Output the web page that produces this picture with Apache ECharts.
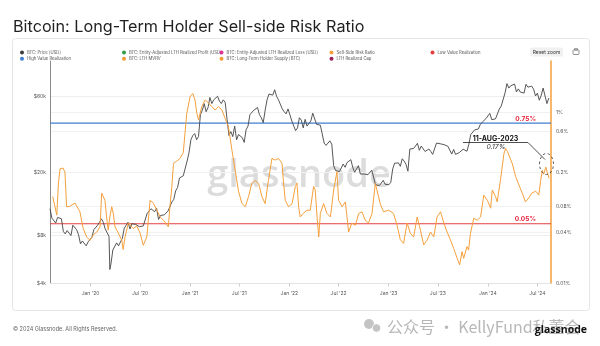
<!DOCTYPE html>
<html>
<head>
<meta charset="utf-8">
<script src="https://cdn.jsdelivr.net/npm/echarts@6/dist/echarts.min.js"></script>
<style>
html,body{margin:0;padding:0;background:#fff}
#c{width:600px;height:346px}
</style>
</head>
<body>
<div id="c"></div>
<script>
// Weekly BTC closing price (USD)
const priceDates = [
'2019-08-05','2019-08-12','2019-08-19','2019-08-26','2019-09-02','2019-09-09','2019-09-16','2019-09-23','2019-09-30','2019-10-07','2019-10-14','2019-10-21','2019-10-28','2019-11-04','2019-11-11','2019-11-18','2019-11-25','2019-12-02','2019-12-09','2019-12-16','2019-12-23','2019-12-30',
'2020-01-06','2020-01-13','2020-01-20','2020-01-27','2020-02-03','2020-02-10','2020-02-17','2020-02-24','2020-03-02','2020-03-09','2020-03-12','2020-03-16','2020-03-23','2020-03-30','2020-04-06','2020-04-13','2020-04-20','2020-04-27','2020-05-04','2020-05-11','2020-05-18','2020-05-25','2020-06-01','2020-06-08','2020-06-15','2020-06-22','2020-06-29','2020-07-06','2020-07-13','2020-07-20','2020-07-27','2020-08-03','2020-08-10','2020-08-17','2020-08-24','2020-08-31','2020-09-07','2020-09-14','2020-09-21','2020-09-28','2020-10-05','2020-10-12','2020-10-19','2020-10-26','2020-11-02','2020-11-09','2020-11-16','2020-11-23','2020-11-30','2020-12-07','2020-12-14','2020-12-21','2020-12-28',
'2021-01-04','2021-01-11','2021-01-18','2021-01-25','2021-02-01','2021-02-08','2021-02-15','2021-02-22','2021-03-01','2021-03-08','2021-03-15','2021-03-22','2021-03-29','2021-04-05','2021-04-12','2021-04-19','2021-04-26','2021-05-03','2021-05-10','2021-05-17','2021-05-24','2021-05-31','2021-06-07','2021-06-14','2021-06-21','2021-06-28','2021-07-05','2021-07-12','2021-07-19','2021-07-26','2021-08-02','2021-08-09','2021-08-16','2021-08-23','2021-08-30','2021-09-06','2021-09-13','2021-09-20','2021-09-27','2021-10-04','2021-10-11','2021-10-18','2021-10-25','2021-11-01','2021-11-08','2021-11-15','2021-11-22','2021-11-29','2021-12-06','2021-12-13','2021-12-20','2021-12-27',
'2022-01-03','2022-01-10','2022-01-17','2022-01-24','2022-01-31','2022-02-07','2022-02-14','2022-02-21','2022-02-28','2022-03-07','2022-03-14','2022-03-21','2022-03-28','2022-04-04','2022-04-11','2022-04-18','2022-04-25','2022-05-02','2022-05-09','2022-05-16','2022-05-23','2022-05-30','2022-06-06','2022-06-13','2022-06-20','2022-06-27','2022-07-04','2022-07-11','2022-07-18','2022-07-25','2022-08-01','2022-08-08','2022-08-15','2022-08-22','2022-08-29','2022-09-05','2022-09-12','2022-09-19','2022-09-26','2022-10-03','2022-10-10','2022-10-17','2022-10-24','2022-10-31','2022-11-07','2022-11-14','2022-11-21','2022-11-28','2022-12-05','2022-12-12','2022-12-19','2022-12-26',
'2023-01-02','2023-01-09','2023-01-16','2023-01-23','2023-01-30','2023-02-06','2023-02-13','2023-02-20','2023-02-27','2023-03-06','2023-03-13','2023-03-20','2023-03-27','2023-04-03','2023-04-10','2023-04-17','2023-04-24','2023-05-01','2023-05-08','2023-05-15','2023-05-22','2023-05-29','2023-06-05','2023-06-12','2023-06-19','2023-06-26','2023-07-03','2023-07-10','2023-07-17','2023-07-24','2023-07-31','2023-08-07','2023-08-14','2023-08-21','2023-08-28','2023-09-04','2023-09-11','2023-09-18','2023-09-25','2023-10-02','2023-10-09','2023-10-16','2023-10-23','2023-10-30','2023-11-06','2023-11-13','2023-11-20','2023-11-27','2023-12-04','2023-12-11','2023-12-18','2023-12-25',
'2024-01-01','2024-01-08','2024-01-15','2024-01-22','2024-01-29','2024-02-05','2024-02-12','2024-02-19','2024-02-26','2024-03-04','2024-03-11','2024-03-18','2024-03-25','2024-04-01','2024-04-08','2024-04-15','2024-04-22','2024-04-29','2024-05-06','2024-05-13','2024-05-20','2024-05-27','2024-06-03','2024-06-10','2024-06-17','2024-06-24','2024-07-01','2024-07-08','2024-07-15','2024-07-22','2024-07-29','2024-08-05','2024-08-12'
];
const priceUsd = [
11800,10300,10100,9600,10400,10300,10200,8500,8200,8600,8300,8000,9300,9300,8700,8100,7100,7400,7200,6900,7300,7200,
7800,8700,8600,9300,9700,10200,9700,8800,8900,7900,4900,5300,6500,6400,7200,6900,7100,7700,8900,8700,9700,8800,9500,9700,9400,9300,9100,9300,9200,9400,11000,11200,11800,11900,11300,11900,10100,10700,10400,10800,10600,11400,11500,13000,13500,15300,16000,18400,18800,19000,19200,23500,26500,
32000,34000,35000,32000,33500,46000,49000,54000,48000,51000,59000,54000,57000,58000,60000,56000,54000,57000,55000,43000,34000,36000,33500,39000,32000,34500,34000,33000,30800,37000,39000,46000,46500,49000,48000,51000,46000,44000,41000,49000,57000,62000,61000,61000,66000,60000,57000,57000,50000,48000,46500,50000,
46000,42000,42000,36500,38000,44000,42500,38000,43000,39000,39000,42000,47000,46000,40000,40500,39500,38500,30500,29500,29000,31500,30000,22000,20500,20500,20200,19800,22500,21500,23000,23200,24000,21500,20000,19500,22000,19500,19000,19500,19200,19300,19500,20600,20900,16700,16300,16500,17100,17800,16800,16800,
16700,17300,21000,22800,23400,22900,21800,24300,23500,22400,20300,28000,27800,28200,28300,30400,27500,29200,28500,27000,26900,28000,27000,25900,26500,30500,30600,30200,30300,29800,29300,29100,29400,26000,27800,25900,25800,26600,26200,27900,27600,27100,30000,34500,35000,36900,37300,37400,39900,41200,41300,43500,
42600,46900,42800,41600,43300,42600,49900,52100,51700,63000,72100,67600,69900,69700,71600,63900,66800,63800,64000,62900,71400,68500,70500,69500,66500,60300,62800,56700,60800,67600,66800,54000,58500
];

// Long-term holder sell-side risk ratio (%)
const ssrDates = [
'2019-08-15','2019-08-30','2019-09-05','2019-09-11','2019-09-22','2019-09-29','2019-10-05','2019-10-17','2019-11-05','2019-11-23','2019-12-05','2019-12-18','2019-12-30',
'2020-01-11','2020-01-24','2020-02-05','2020-02-11','2020-02-17','2020-02-23','2020-02-29','2020-03-06','2020-03-12','2020-03-19','2020-03-25','2020-03-31','2020-04-12','2020-04-25','2020-04-30','2020-05-07','2020-05-19','2020-05-25','2020-06-06','2020-06-19','2020-07-01','2020-07-13','2020-07-26','2020-08-07','2020-08-19','2020-09-01','2020-09-13','2020-09-25','2020-10-13','2020-10-19','2020-10-26','2020-11-01','2020-11-13','2020-11-25','2020-12-07','2020-12-20',
'2021-01-01','2021-01-11','2021-01-19','2021-01-26','2021-02-01','2021-02-13','2021-02-25','2021-03-09','2021-03-22','2021-04-03','2021-04-15','2021-04-28','2021-05-10','2021-05-22','2021-06-04','2021-06-16','2021-06-28','2021-07-11','2021-07-23','2021-08-04','2021-08-16','2021-08-28','2021-09-10','2021-09-22','2021-10-04','2021-10-16','2021-10-29','2021-11-10','2021-11-22','2021-12-05','2021-12-10','2021-12-17','2021-12-29',
'2022-01-11','2022-01-23','2022-01-29','2022-02-04','2022-02-10','2022-02-21','2022-03-07','2022-03-19','2022-03-31','2022-04-06','2022-04-13','2022-04-19','2022-04-25','2022-05-07','2022-05-19','2022-06-01','2022-06-13','2022-06-25','2022-07-01','2022-07-14','2022-07-26','2022-08-07','2022-08-19','2022-09-01','2022-09-13','2022-09-25','2022-10-07','2022-10-19','2022-11-01','2022-11-13','2022-11-19','2022-12-01','2022-12-13',
'2023-01-01','2023-01-19','2023-02-01','2023-02-13','2023-02-25','2023-03-10','2023-03-22','2023-04-03','2023-04-16','2023-04-28','2023-05-10','2023-05-23','2023-06-04','2023-06-16','2023-06-28','2023-07-11','2023-07-23','2023-08-04','2023-08-16','2023-08-28','2023-09-10','2023-09-19','2023-09-28','2023-10-04','2023-10-16','2023-10-22','2023-10-29','2023-11-10','2023-11-23','2023-12-05','2023-12-17','2023-12-30',
'2024-01-11','2024-01-17','2024-01-29','2024-02-04','2024-02-16','2024-02-24','2024-02-29','2024-03-06','2024-03-13','2024-03-31','2024-04-12','2024-04-24','2024-05-06','2024-05-18','2024-05-30','2024-06-10','2024-06-25','2024-07-06','2024-07-13','2024-07-19','2024-07-24','2024-08-01','2024-08-06','2024-08-13'
];
const ssrPct = [
0.104,0.063,0.15,0.22,0.224,0.20,0.079,0.08,0.087,0.069,0.044,0.035,0.032,
0.037,0.040,0.046,0.114,0.115,0.094,0.06,0.042,0.06,0.079,0.065,0.046,0.039,0.032,0.025,0.035,0.051,0.053,0.044,0.047,0.039,0.028,0.035,0.094,0.087,0.072,0.060,0.055,0.046,0.08,0.136,0.255,0.27,0.29,0.34,0.98,
1.53,1.67,1.4,0.98,0.82,1.17,1.4,1.3,1.17,1.07,1.17,1.07,0.85,0.68,0.36,0.21,0.12,0.086,0.079,0.104,0.148,0.16,0.148,0.104,0.086,0.16,0.29,0.278,0.29,0.255,0.16,0.094,0.079,
0.086,0.136,0.15,0.079,0.060,0.066,0.072,0.072,0.136,0.125,0.060,0.035,0.066,0.086,0.066,0.060,0.124,0.203,0.094,0.079,0.09,0.040,0.051,0.048,0.066,0.069,0.055,0.051,0.066,0.148,0.124,0.086,0.069,
0.072,0.066,0.048,0.0325,0.0295,0.051,0.0386,0.035,0.060,0.042,0.0283,0.0323,0.040,0.035,0.060,0.069,0.051,0.040,0.0325,0.0258,0.0197,0.0165,0.0236,0.0197,0.027,0.0246,0.0386,0.058,0.055,0.060,0.108,0.094,
0.076,0.124,0.104,0.09,0.16,0.25,0.33,0.38,0.35,0.25,0.178,0.142,0.115,0.09,0.10,0.114,0.12,0.108,0.16,0.21,0.19,0.23,0.20,0.17
];

// Axis ticks and reference levels
const priceTicks = [4000, 8000, 20000, 60000];
const ratioTicks = [0.01, 0.04, 0.08, 0.2, 0.6, 1];
const dateTicks = ['2020-01-01','2020-07-01','2021-01-01','2021-07-01','2022-01-01','2022-07-01','2023-01-01','2023-07-01','2024-01-01','2024-07-01'];
const dateRange = ['2019-08-05', '2024-08-20'];
const highValueRealization = 0.75;
const lowValueRealization = 0.05;

const ORANGE = '#f5a03c';
const BLUE = '#3f7fd4';
const RED = '#e53e3e';
const UI_FONT = 'Inter, Roboto, "Noto Sans", sans-serif';
const MONTHS = ['Jan','Feb','Mar','Apr','May','Jun','Jul','Aug','Sep','Oct','Nov','Dec'];

// dates are handled as UTC timestamps on a numeric axis
const ts = s => Date.parse(s + 'T00:00:00Z');
const zip = (dates, vals) => dates.map((d, i) => [ts(d), vals[i]]);
// a constant level spanning the whole date range
const level = v => [[ts(dateRange[0]), v], [ts(dateRange[1]), v]];

// Legend columns: [name, colour]
const legendColumns = [
  [['BTC: Price [USD]', '#3a3a3a'], ['High Value Realization', BLUE]],
  [['BTC: Entity-Adjusted LTH Realized Profit [USD]', '#2f9e44'], ['BTC: LTH MVRV', '#f39c34']],
  [['BTC: Entity-Adjusted LTH Realized Loss [USD]', '#e0339a'], ['BTC: Long-Term Holder Supply [BTC]', '#f39c34']],
  [['Sell-Side Risk Ratio', '#f39c34'], ['LTH Realized Cap', '#9c1f5c']],
  [['Low Value Realization', '#e23b3b']]
];
const legendX = [20, 122, 219.5, 329.5, 430.5];

const legends = legendColumns.map((col, i) => ({
  orient: 'vertical',
  left: legendX[i],
  top: 50.5,
  itemGap: 2.3,
  itemWidth: 4,
  itemHeight: 4,
  icon: 'circle',
  selectedMode: false,
  padding: 0,
  data: col.map(c => c[0]),
  textStyle: { fontSize: 4.2, color: '#555', fontFamily: UI_FONT, padding: [0, 0, 0, -2] }
}));

const levelLabel = {
  show: true,
  formatter: p => p.value[1] + '%',
  color: '#e5243b',
  fontWeight: 'bold',
  fontSize: 6.5,
  fontFamily: UI_FONT,
  align: 'right',
  verticalAlign: 'bottom',
  distance: 0,
  offset: [-15, -1]
};

const lineSeries = (name, color, extra) => Object.assign({
  name: name,
  type: 'line',
  showSymbol: false,
  symbol: 'none',
  silent: true,
  itemStyle: { color: color },
  lineStyle: { color: color, width: 1 },
  data: []
}, extra || {});

const option = {
  animation: false,
  backgroundColor: '#fff',
  textStyle: { fontFamily: UI_FONT },
  legend: legends,
  grid: { left: 50, right: 49, top: 61, bottom: 62.5, containLabel: false },
  xAxis: {
    type: 'value',
    min: ts(dateRange[0]),
    max: ts(dateRange[1]),
    axisLine: { show: true, lineStyle: { color: '#e3e3e3', width: 1 } },
    axisTick: { show: true, length: 3, customValues: dateTicks.map(ts), lineStyle: { color: '#cfcfcf' } },
    splitLine: { show: false },
    axisLabel: {
      customValues: dateTicks.map(ts),
      fontSize: 5,
      color: '#555',
      margin: 7,
      formatter: v => {
        const d = new Date(v);
        return MONTHS[d.getUTCMonth()] + " '" + String(d.getUTCFullYear()).slice(2);
      }
    }
  },
  yAxis: [
    {
      type: 'log',
      min: 4000,
      max: 100000,
      position: 'left',
      axisLine: { show: true, lineStyle: { color: '#8a8a8a', width: 1 } },
      axisTick: { show: false, customValues: priceTicks },
      splitLine: { show: true, lineStyle: { color: '#eeeeee', width: 1 } },
      axisLabel: {
        customValues: priceTicks,
        fontSize: 5,
        color: '#555',
        margin: 4,
        padding: [0, 0, 4, 0],
        formatter: v => '$' + Math.round(v / 1000) + 'k'
      }
    },
    {
      type: 'log',
      min: 0.01,
      max: 4,
      position: 'right',
      axisLine: { show: true, lineStyle: { color: ORANGE, width: 1.5 } },
      axisTick: { show: false, customValues: ratioTicks },
      splitLine: { show: true, lineStyle: { color: '#f1f1f1', width: 1 } },
      axisLabel: {
        customValues: ratioTicks,
        fontSize: 5,
        color: '#555',
        margin: 5,
        padding: [0, 0, 4, 0],
        formatter: v => parseFloat(Number(v).toPrecision(3)) + '%'
      }
    }
  ],
  series: [
    lineSeries('High Value Realization', BLUE, {
      yAxisIndex: 1, z: 2,
      data: level(highValueRealization),
      lineStyle: { color: BLUE, width: 1.1 },
      endLabel: levelLabel
    }),
    lineSeries('Low Value Realization', RED, {
      yAxisIndex: 1, z: 2,
      data: level(lowValueRealization),
      lineStyle: { color: RED, width: 1.1 },
      endLabel: levelLabel
    }),
    lineSeries('BTC: Price [USD]', '#3a3a3a', {
      yAxisIndex: 0, z: 3,
      data: zip(priceDates, priceUsd),
      lineStyle: { color: '#444', width: 0.9 }
    }),
    lineSeries('Sell-Side Risk Ratio', ORANGE, {
      yAxisIndex: 1, z: 4,
      data: zip(ssrDates, ssrPct),
      lineStyle: { color: ORANGE, width: 1 }
    }),
    lineSeries('BTC: Entity-Adjusted LTH Realized Profit [USD]', '#2f9e44', { yAxisIndex: 0 }),
    lineSeries('BTC: Entity-Adjusted LTH Realized Loss [USD]', '#e0339a', { yAxisIndex: 0 }),
    lineSeries('BTC: LTH MVRV', '#f39c34', { yAxisIndex: 1 }),
    lineSeries('BTC: Long-Term Holder Supply [BTC]', '#f39c34', { yAxisIndex: 0 }),
    lineSeries('LTH Realized Cap', '#9c1f5c', { yAxisIndex: 0 })
  ],
  graphic: [
    // card frame
    { type: 'rect', silent: true, z: -10, shape: { x: 12.5, y: 38.5, width: 577, height: 272, r: 3 },
      style: { fill: 'none', stroke: '#e6e6e6', lineWidth: 1 } },
    // title
    { type: 'text', silent: true, x: 13, y: 27, style: { text: 'Bitcoin: Long-Term Holder Sell-side Risk Ratio',
      fill: '#1f1f1f', fontSize: 16.2, fontFamily: UI_FONT, textVerticalAlign: 'middle' } },
    // reset zoom button
    { type: 'rect', silent: true, shape: { x: 530, y: 47.5, width: 33, height: 9, r: 1.5 }, style: { fill: '#f1f1f1' } },
    { type: 'text', silent: true, x: 546.5, y: 52, style: { text: 'Reset zoom', fill: '#333', fontSize: 5, fontFamily: UI_FONT,
      textAlign: 'center', textVerticalAlign: 'middle' } },
    // export icon
    { type: 'rect', silent: true, shape: { x: 573, y: 50, width: 6, height: 4.5, r: 0.8 }, style: { fill: 'none', stroke: '#666', lineWidth: 0.7 } },
    { type: 'rect', silent: true, shape: { x: 574.5, y: 48.5, width: 3, height: 1.5 }, style: { fill: 'none', stroke: '#666', lineWidth: 0.6 } },
    // background brand mark inside the plot
    { type: 'text', silent: true, z: -5, x: 299, y: 176, style: { text: 'glassnode', fill: '#dcdcdc', fontSize: 38,
      fontFamily: '"Open Sans", sans-serif', fontWeight: 600, textAlign: 'center', textVerticalAlign: 'middle' } },
    // date callout
    { type: 'text', silent: true, z: 20, x: 495.5, y: 139, style: { text: '11-AUG-2023', fill: '#111', fontSize: 7,
      fontWeight: 'bold', fontFamily: UI_FONT, textAlign: 'center', textVerticalAlign: 'middle' } },
    { type: 'text', silent: true, z: 20, x: 496, y: 146.5, style: { text: '0.17%', fill: '#333', fontSize: 6.8,
      fontStyle: 'italic', fontFamily: UI_FONT, textAlign: 'center', textVerticalAlign: 'middle' } },
    { type: 'polyline', silent: true, z: 20, shape: { points: [[463, 142.5], [528, 142.5], [545, 159.5]] },
      style: { fill: 'none', stroke: '#222', lineWidth: 0.8 } },
    { type: 'ellipse', silent: true, z: 20, shape: { cx: 546.5, cy: 164, rx: 7, ry: 10.5 },
      style: { fill: 'none', stroke: '#333', lineWidth: 0.8, lineDash: [2.5, 2.5] } },
    // footer
    { type: 'text', silent: true, x: 13, y: 329.5, style: { text: '\u00a9 2024 Glassnode. All Rights Reserved.', fill: '#666',
      fontSize: 5.5, fontFamily: UI_FONT, textVerticalAlign: 'middle' } },
    { type: 'circle', silent: true, shape: { cx: 369, cy: 324, r: 5 }, style: { fill: '#c4c4c4' } },
    { type: 'circle', silent: true, shape: { cx: 376.5, cy: 328, r: 4.2 }, style: { fill: '#c4c4c4', stroke: '#fff', lineWidth: 0.8 } },
    { type: 'text', silent: true, x: 387, y: 327, style: { text: '公众号 · KellyFund私董会', fill: '#b8b8b8',
      fontSize: 16, fontFamily: '"Noto Sans CJK SC", "Noto Sans", sans-serif', textVerticalAlign: 'middle' } },
    { type: 'text', silent: true, x: 587, y: 330.5, style: { text: 'glassnode', fill: '#111', fontSize: 10.5,
      fontWeight: 'bold', fontFamily: '"Open Sans", sans-serif', textAlign: 'right', textVerticalAlign: 'middle' } }
  ]
};

const chart = echarts.init(document.getElementById('c'), null, { renderer: 'canvas', width: 600, height: 346 });
chart.setOption(option);
</script>
</body>
</html>
